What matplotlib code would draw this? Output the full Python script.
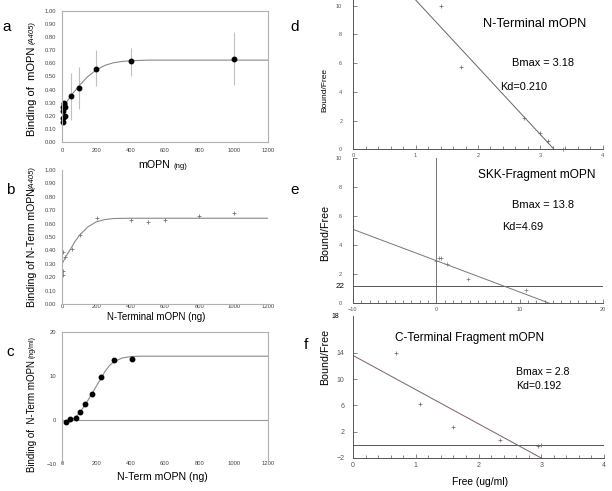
import numpy as np
import matplotlib.pyplot as plt

plt.rcParams['font.family'] = ['Liberation Sans', 'DejaVu Sans']

W, H = 612, 491

# ---- panel a : binding of mOPN ----
a_x = [5, 6, 15, 6, 6, 19, 12, 9, 50, 100, 200, 400, 1000]
a_y = [0.15, 0.18, 0.20, 0.24, 0.27, 0.27, 0.29, 0.30, 0.35, 0.415, 0.56, 0.615, 0.635]
a_err_x = [50, 100, 200, 400, 1000]
a_err_lo = [0.17, 0.255, 0.425, 0.50, 0.435]
a_err_hi = [0.53, 0.575, 0.70, 0.715, 0.84]
a_fit_x = [0, 25, 50, 75, 100, 150, 200, 250, 300, 350, 400, 500, 600, 1200]
a_fit_y = [0.25, 0.30, 0.35, 0.39, 0.43, 0.50, 0.55, 0.585, 0.605, 0.615, 0.62, 0.625, 0.625, 0.625]

# ---- panel b : binding of N-terminal mOPN ----
b_x = [5, 5, 8, 20, 60, 105, 205, 400, 500, 600, 800, 1000]
b_y = [0.22, 0.25, 0.39, 0.35, 0.41, 0.515, 0.64, 0.63, 0.61, 0.63, 0.655, 0.68]
b_fit_x = [5, 25, 50, 75, 100, 150, 200, 250, 300, 400, 1200]
b_fit_y = [0.31, 0.36, 0.41, 0.465, 0.51, 0.575, 0.613, 0.63, 0.638, 0.64, 0.64]

# ---- panel c : binding of N-Term mOPN (ng/ml) ----
c_x = [25, 45, 80, 105, 135, 175, 230, 305, 405]
c_y = [-0.5, 0.15, 0.45, 1.9, 3.6, 5.9, 9.7, 13.6, 13.9]
c_fit_x = [25, 50, 75, 100, 125, 150, 175, 200, 225, 250, 275, 300, 350, 400, 450, 1200]
c_fit_y = [-0.4, 0.0, 0.5, 1.5, 2.9, 4.4, 6.0, 7.7, 9.3, 11.0, 12.3, 13.2, 14.1, 14.4, 14.5, 14.5]

# ---- panel d : Scatchard N-terminal ----
d_x = [1.40, 1.73, 2.73, 3.00, 3.12, 3.36]
d_y = [10.0, 5.7, 2.15, 1.15, 0.55, 0.03]
d_line_x = [1.0, 3.22]
d_line_y = [10.4, 0.0]

# ---- panel e : Scatchard SKK fragment ----
e_x = [0.0, 0.3, 0.6, 1.3, 3.8, 10.8]
e_y = [2.9, 3.15, 3.1, 2.7, 1.7, 0.9]
e_line_x = [-10, 13.6]
e_line_y = [5.1, 0.0]

# ---- panel f : Scatchard C-terminal fragment ----
f_x = [0.69, 1.07, 1.59, 2.35, 2.95, 3.0]
f_y = [14.0, 6.2, 2.65, 0.8, -0.1, 0.05]
f_line_x = [0.0, 3.0]
f_line_y = [13.6, -2.0]


def box(l, t, r, b):
    return [l / W, 1 - b / H, (r - l) / W, (b - t) / H]


def ft(x, y, s, **kw):
    return fig.text(x / W, 1 - y / H, s, **kw)


fig = plt.figure(figsize=(W / 100, H / 100), dpi=100)

frame_c = '#b0b0b0'
curve_c = '#8a8a8a'


def left_style(ax):
    for sp in ax.spines.values():
        sp.set_color(frame_c)
        sp.set_linewidth(0.8)
    ax.tick_params(labelsize=4.2, colors='#444444', length=0, pad=4)
    ax.set_xlim(0, 1200)
    ax.set_xticks(range(0, 1201, 200))


# a
ax = fig.add_axes(box(62, 11, 268, 142))
left_style(ax)
ax.set_ylim(0, 1)
ax.set_yticks(np.arange(0, 1.01, 0.1))
ax.set_yticklabels(['%.2f' % v for v in np.arange(0, 1.01, 0.1)])
ax.vlines(a_err_x, a_err_lo, a_err_hi, color='#c0c0c0', lw=0.8)
ax.plot(a_fit_x, a_fit_y, color=curve_c, lw=0.8)
ax.plot(a_x, a_y, 'o', color='black', ms=3.2, clip_on=False)

# b
ax = fig.add_axes(box(62, 170, 268, 304))
left_style(ax)
for sp in ['top', 'right']:
    ax.spines[sp].set_visible(False)
ax.set_ylim(0, 1)
ax.set_yticks(np.arange(0, 1.01, 0.1))
ax.set_yticklabels(['%.2f' % v for v in np.arange(0, 1.01, 0.1)])
ax.tick_params(axis='x', pad=0)
ax.plot(b_fit_x, b_fit_y, color=curve_c, lw=0.8)
ax.plot(b_x, b_y, '+', color='#777777', ms=3, mew=0.6)

# c
ax = fig.add_axes(box(62, 332, 268, 464))
left_style(ax)
ax.spines['bottom'].set_visible(False)
ax.set_ylim(-10, 20)
ax.set_yticks([-10, 0, 10, 20])
ax.tick_params(axis='x', pad=-2)
ax.axhline(0, color='#999999', lw=0.8)
ax.plot(c_fit_x, c_fit_y, color=curve_c, lw=0.8)
ax.plot(c_x, c_y, 'o', color='black', ms=3.2)


def right_style(ax, minor):
    for sp in ['top', 'right']:
        ax.spines[sp].set_visible(False)
    for sp in ['left', 'bottom']:
        ax.spines[sp].set_color('#555555')
        ax.spines[sp].set_linewidth(0.7)
    ax.xaxis.set_minor_locator(plt.MultipleLocator(minor))
    ax.tick_params(which='both', direction='in', labelsize=4, colors='#555555',
                   width=0.5)
    ax.tick_params(which='major', length=3)
    ax.tick_params(which='minor', length=2.5)
    ax.tick_params(axis='y', pad=8)
    ax.tick_params(axis='x', pad=3)


# d
ax = fig.add_axes(box(353.3, 0, 602.7, 149.3))
right_style(ax, 0.2)
ax.set_xlim(0, 4)
ax.set_ylim(0, 10.4)
ax.set_yticks(range(0, 11, 2))
ax.set_xticks(range(0, 5))
ax.plot(d_line_x, d_line_y, color='#666666', lw=0.7)
ax.plot(d_x, d_y, '+', color='#666666', ms=3, mew=0.5, clip_on=False)

# e
ax = fig.add_axes(box(353, 158.3, 603, 303.3))
right_style(ax, 1)
ax.set_xlim(-10, 20)
ax.set_ylim(0, 10)
ax.set_yticks(range(0, 11, 2))
ax.set_xticks([-10, 0, 10, 20])
ax.axvline(0, color='#777777', lw=0.7)
ax.axhline(1.2, color='#555555', lw=0.7)
ax.plot(e_line_x, e_line_y, color='#777777', lw=0.7)
ax.plot(e_x, e_y, '+', color='#777777', ms=3, mew=0.5)

# f
ax = fig.add_axes(box(353, 316, 604, 458))
right_style(ax, 0.2)
ax.set_xlim(0, 4)
ax.set_ylim(-2, 19.6)
ax.set_yticks([-2, 2, 6, 10, 14])
ax.set_xticks(range(0, 5))
ax.tick_params(axis='x', labelsize=5)
ax.tick_params(axis='y', labelsize=5, pad=6)
ax.axhline(0, color='#555555', lw=0.7)
ax.plot(f_line_x, f_line_y, color='#7a6060', lw=0.7)
ax.plot(f_x, f_y, '+', color='#666666', ms=3.5, mew=0.5)

# panel letters
for s, x, y in [('a', 7, 27), ('b', 10, 190), ('c', 10, 352),
                ('d', 295, 27), ('e', 295, 190), ('f', 306, 345)]:
    ft(x, y, s, fontsize=11, ha='center', va='center')

# left y labels (main part + small unit part)
ft(32, 136, 'Binding of  mOPN', rotation=90, fontsize=8, ha='center', va='bottom')
ft(32, 44, '(A405)', rotation=90, fontsize=5.5, style='italic', ha='center', va='bottom')
ft(32, 307, 'Binding of N-Term mOPN', rotation=90, fontsize=7.6, ha='center', va='bottom')
ft(32, 189, '(A405)', rotation=90, fontsize=5.5, style='italic', ha='center', va='bottom')
ft(32, 472, 'Binding of  N-Term mOPN', rotation=90, fontsize=7, ha='center', va='bottom')
ft(32, 358, '(ng/ml)', rotation=90, fontsize=5, ha='center', va='bottom')

# left x labels
ft(138, 165, 'mOPN', fontsize=7.7, ha='left', va='center')
ft(173, 166, '(ng)', fontsize=5.5, ha='left', va='center')
ft(156, 317, 'N-Terminal mOPN (ng)', fontsize=7, ha='center', va='center')
ft(162, 477, 'N-Term mOPN (ng)', fontsize=7.6, ha='center', va='center')

# right y labels
ft(325, 90, 'Bound/Free', rotation=90, fontsize=6, ha='center', va='center')
ft(325, 233, 'Bound/Free', rotation=90, fontsize=7.7, ha='center', va='center')
ft(325, 357, 'Bound/Free', rotation=90, fontsize=7.7, ha='center', va='center')

# stray labels of the composite
ft(340, 286, '22', fontsize=5.8, ha='center', va='center')
ft(335, 316, '18', fontsize=5, ha='center', va='center')

# annotations
ft(483, 24, 'N-Terminal mOPN', fontsize=9.2, ha='left', va='center')
ft(512, 63, 'Bmax = 3.18', fontsize=7.9, ha='left', va='center')
ft(500, 87, 'Kd=0.210', fontsize=7.9, ha='left', va='center')
ft(478, 175, 'SKK-Fragment mOPN', fontsize=8.6, ha='left', va='center')
ft(512, 205, 'Bmax = 13.8', fontsize=7.9, ha='left', va='center')
ft(502, 227, 'Kd=4.69', fontsize=7.9, ha='left', va='center')
ft(395, 338, 'C-Terminal Fragment mOPN', fontsize=8.5, ha='left', va='center')
ft(516, 372, 'Bmax = 2.8', fontsize=7.6, ha='left', va='center')
ft(516, 386, 'Kd=0.192', fontsize=7.6, ha='left', va='center')
ft(480, 482, 'Free (ug/ml)', fontsize=7.4, ha='center', va='center')

fig.savefig('out.png', dpi=100)
